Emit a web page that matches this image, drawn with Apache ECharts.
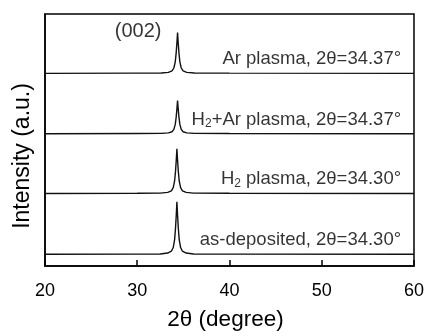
<!DOCTYPE html>
<html>
<head>
<meta charset="utf-8">
<script src="https://cdn.jsdelivr.net/npm/echarts@6/dist/echarts.min.js"></script>
<style>html,body{margin:0;padding:0;background:#fff}#c{width:427px;height:336px}</style>
</head>
<body>
<div id="c"></div>
<script>
// 2-theta (deg) vs intensity (a.u.), traces
const asDeposited = [[20,0],[30,0.2],[32.5,0.4],[33.3,1.3],[33.7,3.2],[33.9,7],[34.05,15],[34.15,27],[34.23,40.5],[34.3,54],[34.37,40.5],[34.45,27],[34.55,15],[34.7,7],[34.9,3.2],[35.3,1.3],[36.1,0.4],[40,0.2],[60,0]];
const h2Plasma = [[20,0],[30,0.2],[32.5,0.4],[33.3,1.15],[33.7,2.8],[33.9,6],[34.05,12.9],[34.15,23],[34.23,34.5],[34.3,46],[34.37,34.5],[34.45,23],[34.55,12.9],[34.7,6],[34.9,2.8],[35.3,1.15],[36.1,0.4],[40,0.2],[60,0]];
const h2ArPlasma = [[20,0],[30,0.2],[32.6,0.3],[33.37,0.85],[33.77,2],[33.97,4.4],[34.12,9.5],[34.22,17],[34.3,25.5],[34.37,34],[34.44,25.5],[34.52,17],[34.62,9.5],[34.77,4.4],[34.97,2],[35.37,0.85],[36.2,0.3],[40,0.2],[60,0]];
const arPlasma = [[20,0],[30,0.2],[32.6,0.35],[33.37,1.05],[33.77,2.5],[33.97,5.5],[34.12,11.8],[34.22,21],[34.3,31.5],[34.37,42],[34.44,31.5],[34.52,21],[34.62,11.8],[34.77,5.5],[34.97,2.5],[35.37,1.05],[36.2,0.35],[40,0.2],[60,0]];
const traces = [asDeposited, h2Plasma, h2ArPlasma, arPlasma];
const offsets = [12, 74.5, 136, 198];
const labels = [
  'as-deposited, 2θ=34.30°',
  '{n|H}{s|2}{n| plasma, 2θ=34.30°}',
  '{n|H}{s|2}{n|+Ar plasma, 2θ=34.37°}',
  'Ar plasma, 2θ=34.37°'
];
const xTicks = [20, 30, 40, 50, 60];
const peakLabel = '(002)';

const FONT = 'Liberation Sans, Arial, sans-serif';
const chart = echarts.init(document.getElementById('c'));
const series = traces.map((t, i) => ({
  type: 'line', data: t.map(p => [p[0], p[1] + offsets[i]]),
  showSymbol: false, symbol: 'none', smooth: false,
  lineStyle: { color: '#111', width: 1.4 }, animation: false, z: 3
}));
series.push({
  type: 'scatter', symbolSize: 0, animation: false, silent: true,
  data: labels.map((l, i) => ({ value: [58.6, offsets[i] + 14.5], label: { formatter: l } })).concat([
    { value: [30.1, 241], label: { formatter: peakLabel, position: 'inside', fontSize: 20 } }
  ]),
  label: {
    show: true, position: 'left', distance: 0, color: '#000', fontFamily: FONT, fontSize: 18.5,
    rich: {
      n: { fontFamily: FONT, fontSize: 18.5, color: '#000' },
      s: { fontFamily: FONT, fontSize: 12, color: '#000', padding: [9, 0, 0, 0] }
    }
  }
});
chart.setOption({
  animation: false,
  grid: { left: 45, right: 11, top: 14, bottom: 63, show: true, borderColor: '#000', borderWidth: 1.5, backgroundColor: 'transparent' },
  xAxis: {
    type: 'value', min: xTicks[0], max: xTicks[xTicks.length - 1], interval: 10,
    axisLine: { show: true, lineStyle: { color: '#000', width: 1.5 } },
    axisTick: { show: true, inside: true, length: 6, lineStyle: { color: '#000', width: 1.5 } },
    axisLabel: { color: '#000', fontSize: 18, fontFamily: FONT, margin: 16 },
    splitLine: { show: false },
    name: '2θ (degree)', nameLocation: 'middle', nameGap: 42,
    nameTextStyle: { color: '#000', fontSize: 22.5, fontFamily: FONT, padding: [0, 8, 0, 0] }
  },
  yAxis: {
    type: 'value', min: 0, max: 259,
    axisLine: { show: true, lineStyle: { color: '#000', width: 1.5 } },
    axisTick: { show: false }, axisLabel: { show: false }, splitLine: { show: false }
  },
  graphic: [{
    type: 'text', x: 23, y: 156, rotation: Math.PI / 2,
    style: { text: 'Intensity (a.u.)', fill: '#000', fontSize: 23, fontFamily: FONT, textAlign: 'center', textVerticalAlign: 'middle' }
  }],
  series: series
});
</script>
</body>
</html>
